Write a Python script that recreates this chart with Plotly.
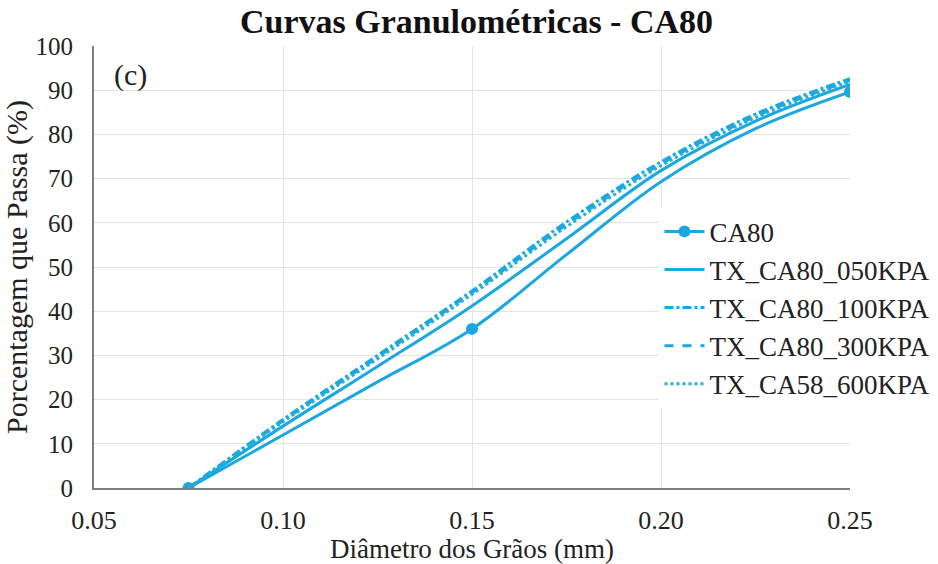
import plotly.graph_objects as go

# Measured sieve points of the natural sample (markers)
sieve_mm = [0.075, 0.15, 0.25]
ca80_sieve = [0, 36, 89.6]

# Curves
diam = [0.075, 0.10, 0.125, 0.15, 0.175, 0.20, 0.225, 0.25]
ca80 = [0, 12, 24, 36, 52.8, 69.3, 81.3, 89.6]
tx_050 = [0, 14, 27.5, 41.2, 56.4, 71.8, 83.0, 91.3]
tx_100 = [0, 15.5, 30, 44.6, 60.2, 73.8, 84.6, 92.6]
tx_300 = [0, 15.2, 29.6, 44.2, 59.6, 73.3, 84.1, 92.2]
tx_600 = [0, 15.0, 29.2, 43.8, 59.1, 72.9, 83.8, 92.0]

color = "#1ba8e0"
lw = 3
fig = go.Figure()
# CA80 curve and measured points
fig.add_trace(go.Scatter(x=diam, y=ca80, mode="lines", showlegend=False, legendgroup="a",
                         line=dict(color=color, width=lw, shape="spline"), hoverinfo="skip"))
fig.add_trace(go.Scatter(x=sieve_mm, y=ca80_sieve, mode="markers", showlegend=False, legendgroup="a",
                         marker=dict(size=12, color=color)))
fig.add_trace(go.Scatter(x=[None], y=[None], name="CA80", mode="lines+markers", legendgroup="a",
                         line=dict(color=color, width=lw), marker=dict(size=12, color=color)))
fig.add_trace(go.Scatter(x=diam, y=tx_050, name="TX_CA80_050KPA", mode="lines", legendgroup="b",
                         line=dict(color=color, width=lw, shape="spline")))
fig.add_trace(go.Scatter(x=diam, y=tx_100, name="TX_CA80_100KPA", mode="lines", legendgroup="c",
                         line=dict(color=color, width=lw, shape="spline", dash="dashdot")))
fig.add_trace(go.Scatter(x=diam, y=tx_300, name="TX_CA80_300KPA", mode="lines", legendgroup="d",
                         line=dict(color=color, width=lw, shape="spline", dash="dash")))
fig.add_trace(go.Scatter(x=diam, y=tx_600, name="TX_CA58_600KPA", mode="lines", legendgroup="e",
                         line=dict(color="#22b0d8", width=lw, shape="spline", dash="dot")))

font = "Liberation Serif, Times New Roman, serif"
fig.update_layout(
    width=938, height=564,
    margin=dict(l=94, r=88, t=46, b=76, autoexpand=False),
    paper_bgcolor="white", plot_bgcolor="white",
    font=dict(family=font, color="#222222", size=25),
    title=dict(text="<b>Curvas Granulométricas - CA80</b>", x=0.508, xanchor="center",
               y=0.963, yanchor="middle", font=dict(size=34, color="#111111")),
    showlegend=True,
    legend=dict(x=0.748, y=0.635, xanchor="left", yanchor="top",
                bgcolor="white", font=dict(size=27, color="#222222"),
                tracegroupgap=0, itemwidth=40),
    annotations=[dict(text="(c)", x=0.024, y=0.935, xref="paper", yref="paper",
                      xanchor="left", yanchor="middle", showarrow=False,
                      font=dict(size=30, color="#222222"))],
)
fig.update_xaxes(range=[0.05, 0.25], dtick=0.05, tick0=0.05, tickformat=".2f",
                 showgrid=True, gridcolor="#e3e3e3", gridwidth=1,
                 showline=True, linecolor="#7f7f7f", linewidth=2,
                 ticks="", zeroline=False, ticklabelstandoff=8,
                 title=dict(text="Diâmetro dos Grãos (mm)", font=dict(size=27), standoff=0),
                 tickfont=dict(size=26))
fig.update_yaxes(range=[0, 100], dtick=10, showgrid=True, gridcolor="#e3e3e3", gridwidth=1,
                 showline=True, linecolor="#7f7f7f", linewidth=2,
                 ticks="", zeroline=False, ticklabelstandoff=14,
                 title=dict(text="Porcentagem que Passa (%)", font=dict(size=30), standoff=2),
                 tickfont=dict(size=25))
fig.write_html("out.html")
